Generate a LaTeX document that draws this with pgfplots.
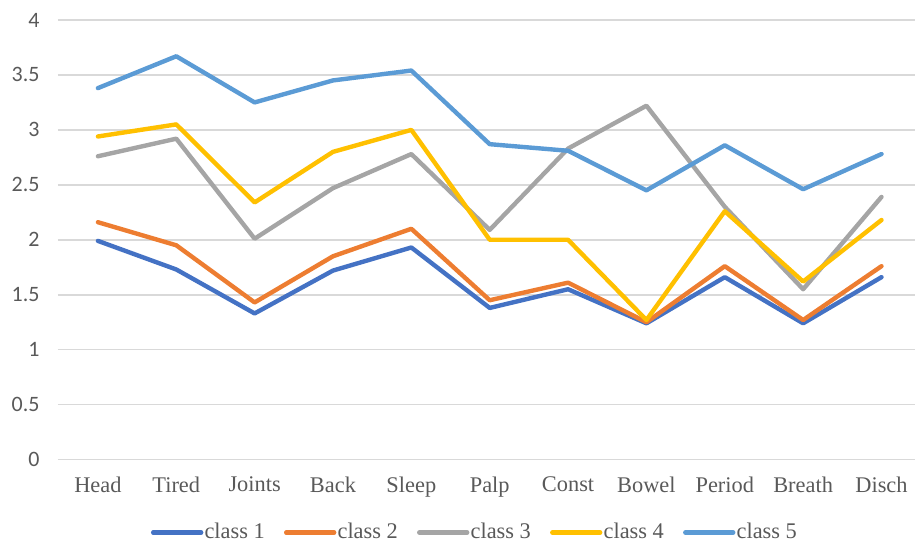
\documentclass[border=0pt]{standalone}
\usepackage{pgfplots}
\pgfplotsset{compat=1.18}
\usepackage{fontspec}
\setmainfont{Liberation Serif}
\newfontfamily\tickfont{Carlito}

\definecolor{txt}{HTML}{595959}
\definecolor{gridc}{HTML}{D9D9D9}
\definecolor{cOne}{HTML}{4472C4}
\definecolor{cTwo}{HTML}{ED7D31}
\definecolor{cThree}{HTML}{A5A5A5}
\definecolor{cFour}{HTML}{FFC000}
\definecolor{cFive}{HTML}{5B9BD5}

\begin{document}
\begin{tikzpicture}
\begin{axis}[
  at={(0,0)}, anchor=south west,
  scale only axis,
  width=429pt, height=220pt,
  xmin=-0.51, xmax=10.43,
  ymin=0, ymax=4,
  ytick={0,0.5,...,4},
  xtick={0,...,10},
  xticklabels={Head,Tired,Joints,Back,Sleep,Palp,Const,Bowel,Period,Breath,Disch},
  axis line style={draw=none},
  major tick length=0pt,
  ymajorgrids,
  grid style={gridc, line width=0.8pt},
  tick label style={txt},
  yticklabel style={font=\tickfont\fontsize{11}{13}\selectfont, anchor=east, inner sep=0pt, xshift=-9pt,
    /pgf/number format/assume math mode=true, /pgf/number format/fixed},
  xticklabel style={font=\fontsize{11.2}{13}\selectfont, anchor=north, inner sep=0pt, yshift=-8.5pt},
  legend style={at={(0.486,0)}, anchor=center, yshift=-36.5pt, draw=none, fill=none,
    font=\fontsize{11.2}{13}\selectfont, text=txt, inner sep=0pt,
    legend cell align=left},
  legend columns=5,
  legend image code/.code={\draw[#1, line width=2.2pt, line cap=round] (0pt,0pt) -- (24pt,0pt);},
  % odd columns hold the line samples, even columns the names
  /tikz/every odd column/.append style={column sep=0pt},
  /tikz/every even column/.append style={column sep=9pt},
  legend style={nodes={inner sep=0.6pt}},
  every axis plot/.append style={line width=2.2pt, line join=round, line cap=round, mark=none},
  clip=false,
]
\addplot[cOne] coordinates {(0,1.99) (1,1.73) (2,1.33) (3,1.72) (4,1.93) (5,1.38) (6,1.55) (7,1.24) (8,1.66) (9,1.24) (10,1.66)};
\addlegendentry{class 1}
\addplot[cTwo] coordinates {(0,2.16) (1,1.95) (2,1.43) (3,1.85) (4,2.10) (5,1.45) (6,1.61) (7,1.25) (8,1.76) (9,1.27) (10,1.76)};
\addlegendentry{class 2}
\addplot[cThree] coordinates {(0,2.76) (1,2.92) (2,2.01) (3,2.47) (4,2.78) (5,2.09) (6,2.83) (7,3.22) (8,2.30) (9,1.55) (10,2.39)};
\addlegendentry{class 3}
\addplot[cFour] coordinates {(0,2.94) (1,3.05) (2,2.34) (3,2.80) (4,3.00) (5,2.00) (6,2.00) (7,1.27) (8,2.26) (9,1.62) (10,2.18)};
\addlegendentry{class 4}
\addplot[cFive] coordinates {(0,3.38) (1,3.67) (2,3.25) (3,3.45) (4,3.54) (5,2.87) (6,2.81) (7,2.45) (8,2.86) (9,2.46) (10,2.78)};
\addlegendentry{class 5}
\end{axis}
\path[use as bounding box] (-29pt,-40pt) rectangle (429pt,230pt);
\end{tikzpicture}
\end{document}
